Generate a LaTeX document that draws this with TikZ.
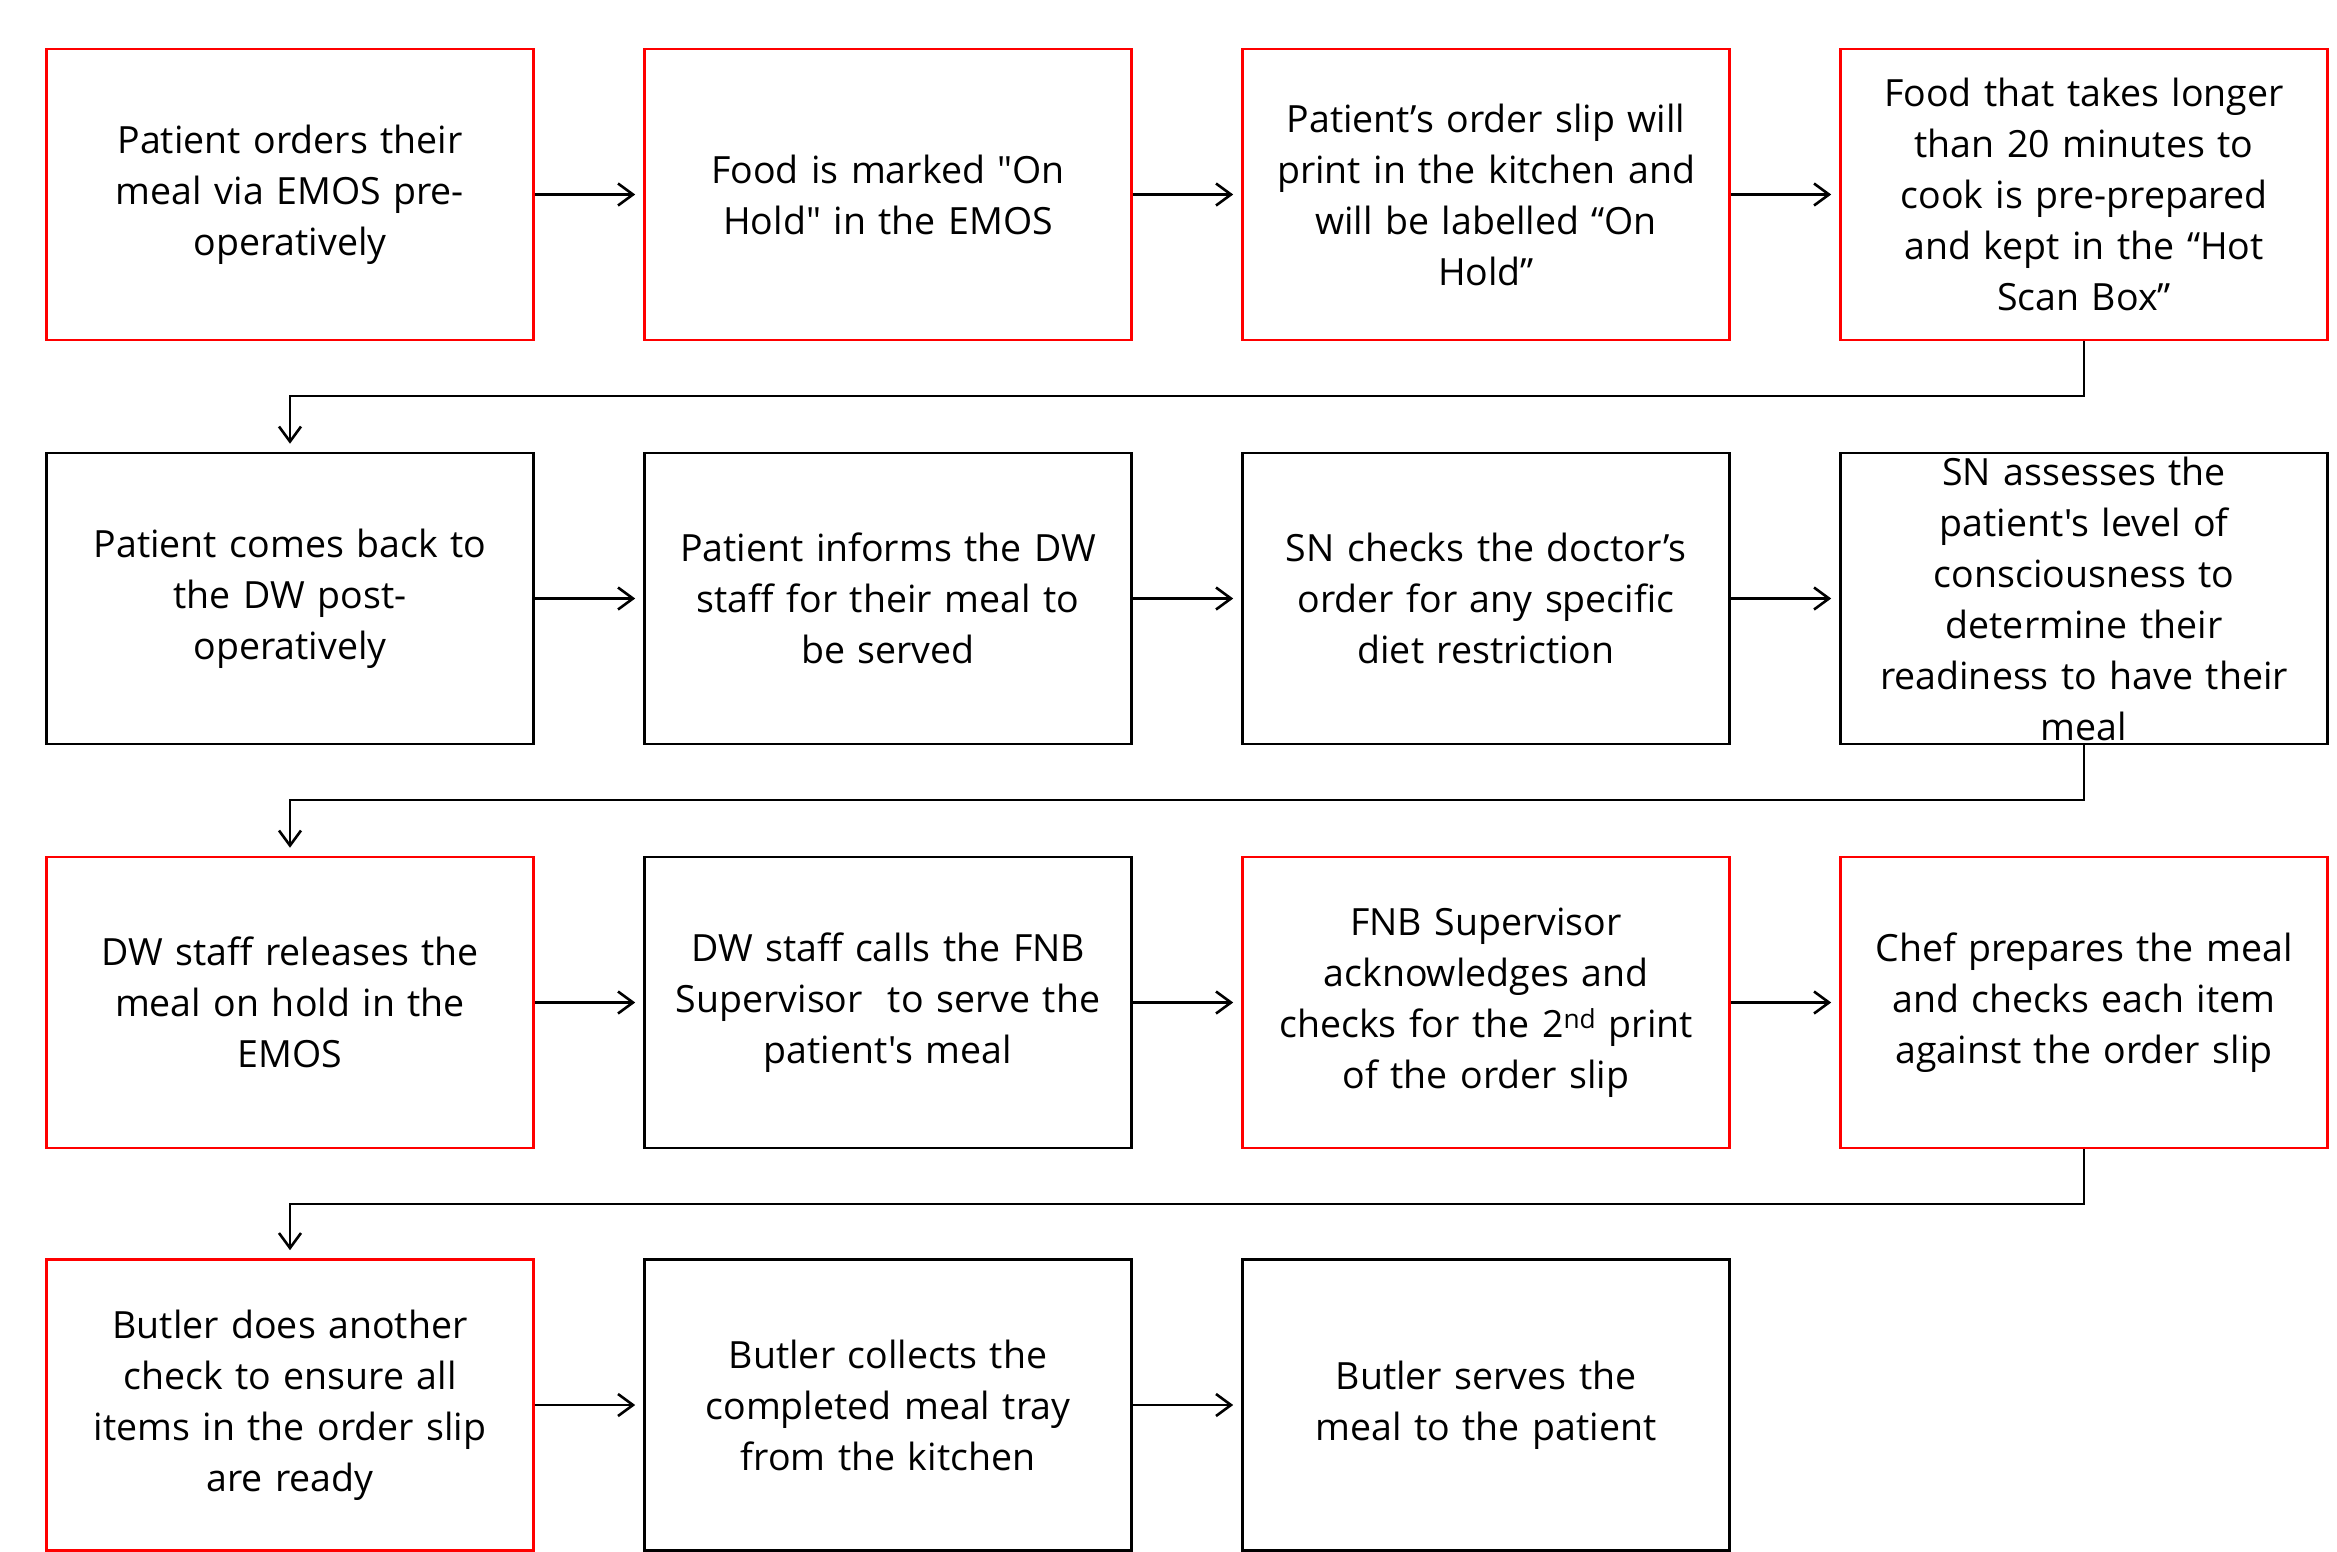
\documentclass[tikz,border=0pt]{standalone}
\usepackage{fontspec}
\setmainfont{Open Sans}
\newfontfamily\boxfont{Open Sans}
\usetikzlibrary{arrows.meta}
\definecolor{boxred}{RGB}{255,0,0}
\tikzset{
  stepbox/.style={draw, line width=2.6pt, rectangle, minimum width=487pt, minimum height=291pt,
    inner sep=0pt, align=center, text width=470pt,
    font=\boxfont\fontsize{37.5pt}{51pt}\selectfont},
  redbox/.style={stepbox, draw=boxred},
  blackbox/.style={stepbox, draw=black},
  arr/.style={draw=black, line width=2.6pt, -{Straight Barb[length=15pt,width=22pt,line width=2.6pt]}, shorten >=8pt}
}
\begin{document}
\begin{tikzpicture}[x=1pt,y=-1pt]
\useasboundingbox (0,0) rectangle (2337,1551);
% row 1
\node[redbox] (b1) at (290,194.5) {Patient orders their\\meal via EMOS pre-\\operatively};
\node[redbox] (b2) at (888,194.5) {Food is marked "On\\Hold" in the EMOS};
\node[redbox] (b3) at (1486,194.5) {Patient’s order slip will\\print in the kitchen and\\will be labelled “On\\Hold”};
\node[redbox] (b4) at (2084,194.5) {Food that takes longer\\than 20 minutes to\\cook is pre-prepared\\and kept in the “Hot\\Scan Box”};
% row 2
\node[blackbox] (b5) at (290,598.5) {Patient comes back to\\the DW post-\\operatively};
\node[blackbox] (b6) at (888,598.5) {Patient informs the DW\\staff for their meal to\\be served};
\node[blackbox] (b7) at (1486,598.5) {SN checks the doctor’s\\order for any specific\\diet restriction};
\node[blackbox] (b8) at (2084,598.5) {SN assesses the\\patient's level of\\consciousness to\\determine their\\readiness to have their\\meal};
% row 3
\node[redbox] (b9) at (290,1002.5) {DW staff releases the\\meal on hold in the\\EMOS};
\node[blackbox] (b10) at (888,1002.5) {DW staff calls the FNB\\Supervisor\ \ to serve the\\patient's meal};
\node[redbox] (b11) at (1486,1002.5) {FNB Supervisor\\acknowledges and\\checks for the 2\textsuperscript{nd} print\\of the order slip};
\node[redbox] (b12) at (2084,1002.5) {Chef prepares the meal\\and checks each item\\against the order slip};
% row 4
\node[redbox] (b13) at (290,1405) {Butler does another\\check to ensure all\\items in the order slip\\are ready};
\node[blackbox] (b14) at (888,1405) {Butler collects the\\completed meal tray\\from the kitchen};
\node[blackbox] (b15) at (1486,1405) {Butler serves the\\meal to the patient};
% elbow levels
\coordinate (e1) at (0,396);
\coordinate (e2) at (0,800);
\coordinate (e3) at (0,1204);
% horizontal connectors
\draw[arr] (b1.east) -- (b2.west);
\draw[arr] (b2.east) -- (b3.west);
\draw[arr] (b3.east) -- (b4.west);
\draw[arr] (b5.east) -- (b6.west);
\draw[arr] (b6.east) -- (b7.west);
\draw[arr] (b7.east) -- (b8.west);
\draw[arr] (b9.east) -- (b10.west);
\draw[arr] (b10.east) -- (b11.west);
\draw[arr] (b11.east) -- (b12.west);
\draw[arr] (b13.east) -- (b14.west);
\draw[arr] (b14.east) -- (b15.west);
% elbow connectors
\draw[arr] (b4.south) -- (b4.south |- e1) -| (b5.north);
\draw[arr] (b8.south) -- (b8.south |- e2) -| (b9.north);
\draw[arr] (b12.south) -- (b12.south |- e3) -| (b13.north);
\end{tikzpicture}
\end{document}
